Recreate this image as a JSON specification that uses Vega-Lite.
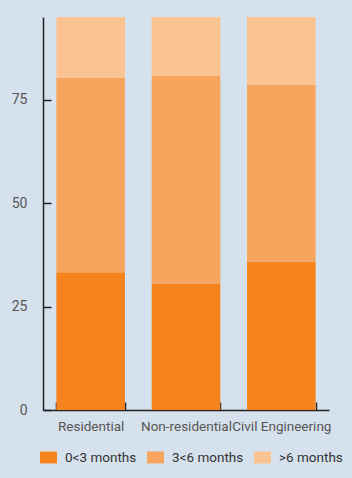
{
  "$schema": "https://vega.github.io/schema/vega-lite/v6.json",
  "width": 286,
  "height": 393,
  "autosize": {"type": "none"},
  "padding": {"left": 43, "top": 17, "right": 23, "bottom": 68},
  "background": "#d5e1ec",
  "config": {
    "view": {"stroke": null},
    "font": "Roboto"
  },
  "data": {
    "values": [
      {"sector": "Residential", "duration": "0<3 months", "rank": 1, "share": 33.3},
      {"sector": "Residential", "duration": "3<6 months", "rank": 2, "share": 47.0},
      {"sector": "Residential", "duration": ">6 months", "rank": 3, "share": 14.7},
      {"sector": "Non-residential", "duration": "0<3 months", "rank": 1, "share": 30.6},
      {"sector": "Non-residential", "duration": "3<6 months", "rank": 2, "share": 50.2},
      {"sector": "Non-residential", "duration": ">6 months", "rank": 3, "share": 14.2},
      {"sector": "Civil Engineering", "duration": "0<3 months", "rank": 1, "share": 35.9},
      {"sector": "Civil Engineering", "duration": "3<6 months", "rank": 2, "share": 42.7},
      {"sector": "Civil Engineering", "duration": ">6 months", "rank": 3, "share": 16.4}
    ]
  },
  "mark": {"type": "bar"},
  "encoding": {
    "x": {
      "field": "sector",
      "type": "nominal",
      "sort": ["Residential", "Non-residential", "Civil Engineering"],
      "scale": {"paddingInner": 0.28, "paddingOuter": 0.14},
      "axis": {
        "title": null,
        "labelAngle": 0,
        "tickBand": "extent",
        "tickSize": -8,
        "tickColor": "#222",
        "tickWidth": 1.5,
        "domainColor": "#222",
        "domainWidth": 1.5,
        "labelColor": "#555",
        "labelFontSize": 13.5,
        "labelPadding": 17
      }
    },
    "y": {
      "field": "share",
      "type": "quantitative",
      "stack": "zero",
      "scale": {"domain": [0, 95], "nice": false},
      "axis": {
        "title": null,
        "values": [0, 25, 50, 75],
        "grid": false,
        "tickSize": -8,
        "tickColor": "#222",
        "tickWidth": 1.5,
        "domainColor": "#222",
        "domainWidth": 1.5,
        "labelColor": "#555",
        "labelFontSize": 14,
        "labelPadding": 24
      }
    },
    "order": {"field": "rank", "type": "quantitative", "sort": "ascending"},
    "color": {
      "field": "duration",
      "type": "nominal",
      "scale": {
        "domain": ["0<3 months", "3<6 months", ">6 months"],
        "range": ["#f5841f", "#f7a45e", "#fbc392"]
      },
      "legend": {
        "title": null,
        "orient": "none",
        "direction": "horizontal",
        "legendX": -3,
        "legendY": 432,
        "symbolType": "M-1,-0.7H1V0.7H-1Z",
        "symbolSize": 289,
        "symbolStrokeWidth": 0,
        "symbolOpacity": 1,
        "labelFontSize": 13.5,
        "labelColor": "#333",
        "labelOffset": 8,
        "columnPadding": 10
      }
    }
  }
}
